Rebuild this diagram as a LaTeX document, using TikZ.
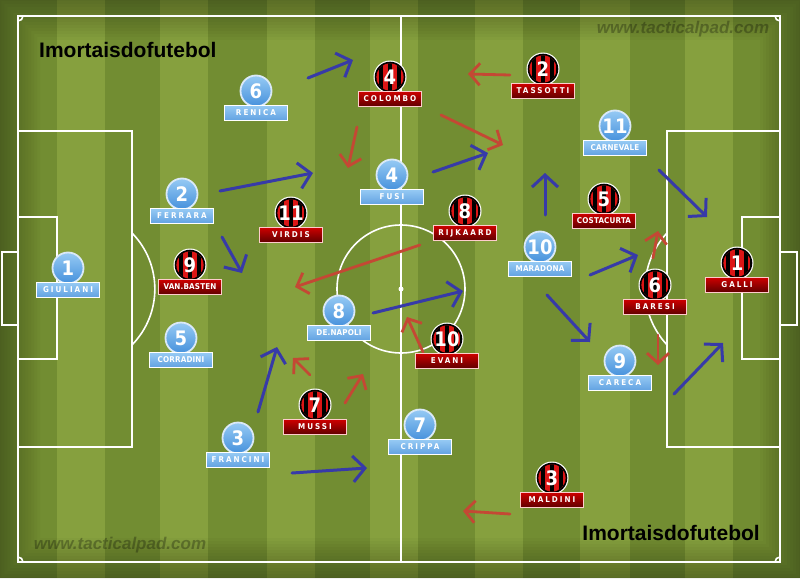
\documentclass[tikz,border=0pt]{standalone}
\usepackage{fontspec}
\setmainfont{Liberation Sans}
\newfontfamily\numfont{DejaVu Sans Condensed}
\newfontfamily\tagw{DejaVu Sans Condensed}[LetterSpace=25]
\newfontfamily\tagn{DejaVu Sans Condensed}[LetterSpace=2]
\usetikzlibrary{arrows.meta}

\definecolor{pitchlight}{RGB}{134,160,62}
\definecolor{pitchdark}{RGB}{114,141,50}
\definecolor{napblue}{RGB}{70,145,220}
\definecolor{naplight}{RGB}{150,202,244}
\definecolor{arrblue}{RGB}{55,58,168}
\definecolor{arrred}{RGB}{196,72,52}
\definecolor{milred}{RGB}{220,22,22}
\definecolor{tagred}{RGB}{205,0,0}
\definecolor{tagdark}{RGB}{95,0,0}

\tikzset{
  pitchline/.style={white, line width=1.6pt},
  napball/.style={circle, draw=white!80!napblue, line width=1.8pt, inner sep=0pt,
    minimum size=31pt, top color=naplight, bottom color=napblue, text=white,
    font=\numfont\bfseries\fontsize{20}{20}\selectfont},
  milnum/.style={circle, inner sep=0pt, minimum size=33pt, text=white,
    font=\numfont\bfseries\fontsize{20}{20}\selectfont},
  napname/.style={draw=white, line width=0.9pt, minimum width=63pt, minimum height=15pt,
    inner sep=0pt, top color=naplight, bottom color=napblue!85!white, text=white,
    font=\bfseries\fontsize{8}{8}\selectfont},
  milname/.style={draw=white!80!red, line width=0.9pt, minimum width=63pt, minimum height=15pt,
    inner sep=0pt, top color=tagred, bottom color=tagdark, text=white,
    font=\bfseries\fontsize{8}{8}\selectfont},
  naparrow/.style={arrblue, line width=3pt, line cap=round,
    -{Straight Barb[length=12pt,width=26pt]}},
  milarrow/.style={arrred, line width=2.8pt, line cap=round,
    -{Straight Barb[length=10pt,width=22pt]}},
  brand/.style={text=black, font=\bfseries\fontsize{21}{21}\selectfont, inner sep=0pt},
  watermark/.style={text=black, text opacity=0.28, inner sep=0pt,
    font=\bfseries\itshape\fontsize{17}{17}\selectfont}
}

\begin{document}
\begin{tikzpicture}[x=1pt,y=-1pt]
\useasboundingbox (0,0) rectangle (800,578);
% grass
\fill[pitchdark] (0,0) rectangle (800,578);
\foreach \a/\b in {57/105,160/208,267/315,370/418,475/523,580/630,685/733}
    \fill[pitchlight] (\a,0) rectangle (\b,578);
\foreach \d in {1,4,...,40}
    \fill[black,opacity=0.025,even odd rule] (0,0) rectangle (800,578) (\d,\d) rectangle (800-\d,578-\d);

% lines
\draw[pitchline] (18,16) rectangle (780,562);
\draw[pitchline] (401,16) -- (401,562);
\draw[pitchline] (401,289) circle (64);
\fill[white] (401,289) circle (2.5);
\draw[pitchline] (18,131) rectangle (132,447);
\draw[pitchline] (18,217) rectangle (57,359);
\draw[pitchline] (2,252) rectangle (18,325);
\draw[pitchline] (132,233) arc[start angle=-44.4, end angle=44.4, radius=80];
\draw[pitchline] (667,131) rectangle (780,447);
\draw[pitchline] (742,217) rectangle (780,359);
\draw[pitchline] (780,252) rectangle (797,325);
\draw[pitchline] (667,233) arc[start angle=223, end angle=137, radius=82];
\draw[pitchline] (23,16) arc[start angle=0, end angle=90, radius=5];
\draw[pitchline] (775,16) arc[start angle=180, end angle=90, radius=5];
\draw[pitchline] (23,562) arc[start angle=0, end angle=-90, radius=5];
\draw[pitchline] (775,562) arc[start angle=180, end angle=270, radius=5];

% texts
\node[watermark] (wmtop) at (683,29) {www.tacticalpad.com};
\node[watermark] (wmbot) at (120,545) {www.tacticalpad.com};
\node[brand, anchor=west] (brandtop) at (39,50) {Imortaisdofutebol};
\node[brand, anchor=east] (brandbot) at (760,533) {Imortaisdofutebol};

% runs
\foreach \ax/\ay/\bx/\by [count=\i] in {308/78/353/60, 220/191/313/173, 222/237/242/273,
    433/172/488/153, 545/215/545/173, 659/170/707/217, 590/275/638/255, 373/313/463/291,
    547/295/590/342, 674/394/723/343, 258/412/277/347, 292/473/367/468}
    {\coordinate (bs\i) at (\ax,\ay);
    \coordinate (be\i) at (\bx,\by);
    \draw[naparrow] (bs\i) -- (be\i);}
\foreach \ax/\ay/\bx/\by [count=\i] in {510/75/468/74, 357/127/348/168, 441/115/503/145,
    420/245/295/287, 310/375/293/358, 345/403/363/374, 423/352/407/317,
    653/258/658/231, 658/335/658/365, 510/514/463/511}
    {\coordinate (rs\i) at (\ax,\ay);
    \coordinate (re\i) at (\bx,\by);
    \draw[milarrow] (rs\i) -- (re\i);}

% Napoli
\foreach \px/\py/\n/\nm in {68/268/1/{\tagw GIULIANI}, 182/194/2/{\tagw FERRARA},
    256/91/6/{\tagw RENICA}, 392/175/4/{\tagw FUSI}, 181/338/5/{\tagn CORRADINI},
    339/311/8/{\tagn DE.NAPOLI}, 238/438/3/{\tagw FRANCINI}, 420/425/7/{\tagw CRIPPA},
    540/247/10/{\tagn MARADONA}, 615/126/11/{\tagn CARNEVALE}, 620/361/9/{\tagw CARECA}}
    {\node[napball] (na\n) at (\px,\py) {\n};
    \node[napname] (na\n lbl) at (\px,\py+22) {\nm};}

% Milan
\foreach \px/\py/\n/\nm in {390/77/4/{\tagw COLOMBO}, 543/69/2/{\tagw TASSOTTI},
    291/213/11/{\tagw VIRDIS}, 465/211/8/{\tagw RIJKAARD}, 190/265/9/{\tagn VAN.BASTEN},
    604/199/5/{\tagn COSTACURTA}, 655/285/6/{\tagw BARESI}, 737/263/1/{\tagw GALLI},
    447/339/10/{\tagw EVANI}, 315/405/7/{\tagw MUSSI}, 552/478/3/{\tagw MALDINI}}
    {\fill[white] (\px,\py) circle (16.5);
    \fill[black] (\px,\py) circle (15.3);
    \begin{scope}
    \clip (\px,\py) circle (13.6);
    \fill[milred] (\px-14,\py-14) rectangle (\px+14,\py+14);
    \foreach \s in {-9,0,9}
        \fill[black] (\px+\s-1.7,\py-14) rectangle (\px+\s+1.7,\py+14);
    \end{scope}
    \node[milnum] (mi\n) at (\px,\py) {\n};
    \node[milname] (mi\n lbl) at (\px,\py+22) {\nm};}
\end{tikzpicture}
\end{document}
